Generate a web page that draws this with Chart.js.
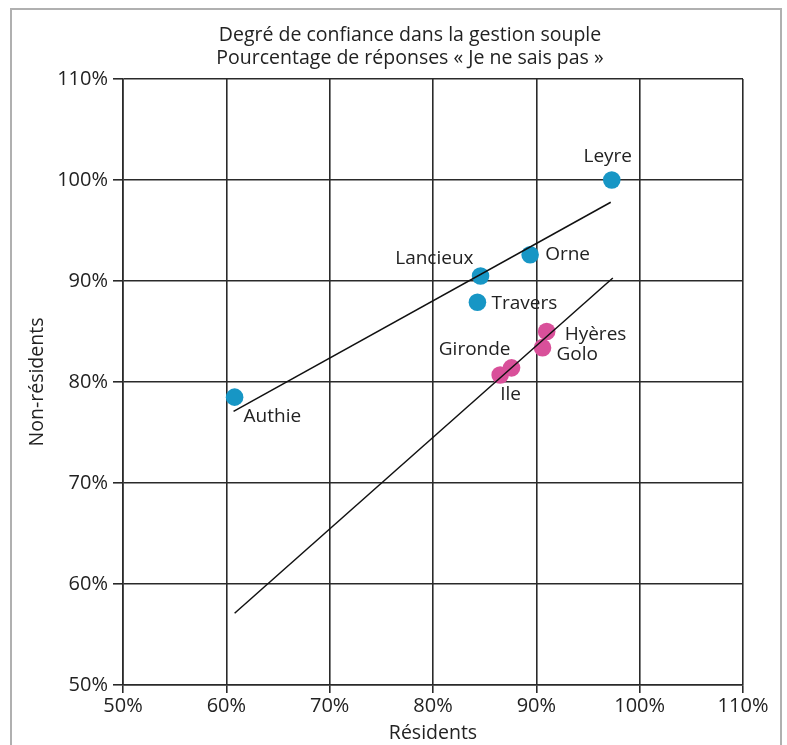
<!DOCTYPE html>
<html>
<head>
<meta charset="utf-8">
<script src="https://cdn.jsdelivr.net/npm/chart.js@4"></script>
<style>
  html, body { margin: 0; padding: 0; background: #fff; }
  #wrap { width: 787px; height: 745px; position: relative; }
</style>
</head>
<body>
<div id="wrap"><canvas id="scatterChart" width="787" height="745"></canvas></div>
<script>
const titleLines = ["Degré de confiance dans la gestion souple", "Pourcentage de réponses « Je ne sais pas »"];
const xTitle = "Résidents";
const yTitle = "Non-résidents";

// blue group
const blueNames = ["Authie", "Lancieux", "Travers", "Orne", "Leyre"];
const blueX = [60.8, 84.6, 84.3, 89.4, 97.3];
const blueY = [78.5, 90.5, 87.9, 92.6, 100.0];

// pink group
const pinkNames = ["Gironde", "Ile", "Hyères", "Golo"];
const pinkX = [87.6, 86.5, 91.0, 90.6];
const pinkY = [81.4, 80.7, 85.0, 83.4];

// trend lines (end points)
const blueTrendX = [60.7, 97.2];
const blueTrendY = [77.1, 97.8];
const pinkTrendX = [60.8, 97.4];
const pinkTrendY = [57.1, 90.3];

const xTicks = [50, 60, 70, 80, 90, 100, 110];
const yTicks = [50, 60, 70, 80, 90, 100, 110];

const FONT = "'Open Sans', sans-serif";
const BLUE = "#1796c5";
const PINK = "#d9509a";
const GRID = "#2a2a2a";
const TEXT = "#222222";

// label placement for each point name (dx, dy, align)
const labelPos = {
  "Leyre":    [-4, -23, "center"],
  "Orne":     [15, 0, "left"],
  "Lancieux": [-7, -17, "right"],
  "Travers":  [14, 1, "left"],
  "Authie":   [9, 19, "left"],
  "Hyères":   [18, 3, "left"],
  "Golo":     [14, 7, "left"],
  "Gironde":  [-1, -18, "right"],
  "Ile":      [0, 20, "left"]
};

const toPts = (xs, ys) => xs.map((x, i) => ({ x: x, y: ys[i] }));

const pointLabels = {
  id: "pointLabels",
  afterDatasetsDraw(chart) {
    const ctx = chart.ctx;
    ctx.save();
    ctx.font = "19px " + FONT;
    ctx.fillStyle = TEXT;
    ctx.textBaseline = "middle";
    chart.data.datasets.forEach((ds, di) => {
      if (!ds.names) return;
      const meta = chart.getDatasetMeta(di);
      meta.data.forEach((el, i) => {
        const name = ds.names[i];
        const p = labelPos[name] || [10, 0, "left"];
        ctx.textAlign = p[2];
        ctx.fillText(name, el.x + p[0], el.y + p[1]);
      });
    });
    ctx.restore();
  }
};

// frame + two-line heading, centred on the framed box rather than the plot
const frame = {
  id: "frame",
  beforeDraw(chart) {
    const ctx = chart.ctx;
    ctx.save();
    ctx.strokeStyle = "#b0b0b0";
    ctx.lineWidth = 2;
    ctx.beginPath();
    ctx.moveTo(11, 745);
    ctx.lineTo(11, 9);
    ctx.lineTo(781, 9);
    ctx.lineTo(781, 745);
    ctx.stroke();

    ctx.font = "19.5px " + FONT;
    ctx.fillStyle = TEXT;
    ctx.textAlign = "center";
    ctx.textBaseline = "middle";
    titleLines.forEach((t, i) => ctx.fillText(t, 410, 35 + i * 23));
    ctx.restore();
  }
};

new Chart(document.getElementById("scatterChart").getContext("2d"), {
  type: "scatter",
  data: {
    datasets: [
      {
        label: "trend blue",
        type: "line",
        data: toPts(blueTrendX, blueTrendY),
        borderColor: "#111",
        borderWidth: 1.5,
        pointRadius: 0,
        fill: false
      },
      {
        label: "trend pink",
        type: "line",
        data: toPts(pinkTrendX, pinkTrendY),
        borderColor: "#111",
        borderWidth: 1.5,
        pointRadius: 0,
        fill: false
      },
      {
        label: "blue",
        names: blueNames,
        data: toPts(blueX, blueY),
        backgroundColor: BLUE,
        borderWidth: 0,
        pointRadius: 8.8
      },
      {
        label: "pink",
        names: pinkNames,
        data: toPts(pinkX, pinkY),
        backgroundColor: PINK,
        borderWidth: 0,
        pointRadius: 8.8
      }
    ]
  },
  options: {
    responsive: false,
    animation: false,
    layout: { padding: { left: 0, right: 44, top: 79, bottom: 0 } },
    plugins: {
      legend: { display: false },
      tooltip: { enabled: false },
      title: { display: false }
    },
    scales: {
      x: {
        type: "linear",
        min: 50,
        max: 110,
        afterBuildTicks: (s) => { s.ticks = xTicks.map(v => ({ value: v })); },
        afterFit: (s) => { s.height = 60; },
        border: { color: GRID, width: 1.6 },
        grid: { color: GRID, lineWidth: 1.6, tickLength: 8, tickColor: GRID },
        ticks: {
          color: TEXT,
          padding: 1,
          font: { family: FONT, size: 20 },
          callback: (v) => v + "%"
        },
        title: {
          display: true,
          text: xTitle,
          color: TEXT,
          font: { family: FONT, size: 19.5, lineHeight: 1.2 },
          padding: { top: 0, bottom: 0 }
        }
      },
      y: {
        type: "linear",
        min: 50,
        max: 110,
        afterBuildTicks: (s) => { s.ticks = yTicks.map(v => ({ value: v })); },
        afterFit: (s) => { s.width = 123; },
        border: { color: GRID, width: 1.6 },
        grid: { color: GRID, lineWidth: 1.6, tickLength: 10, tickColor: GRID },
        ticks: {
          color: TEXT,
          padding: 5,
          font: { family: FONT, size: 20 },
          callback: (v) => v + "%"
        },
        title: {
          display: true,
          text: yTitle,
          color: TEXT,
          font: { family: FONT, size: 19.5, lineHeight: 1.2 },
          padding: { top: 26, bottom: 0 }
        }
      }
    }
  },
  plugins: [frame, pointLabels]
});
</script>
</body>
</html>
